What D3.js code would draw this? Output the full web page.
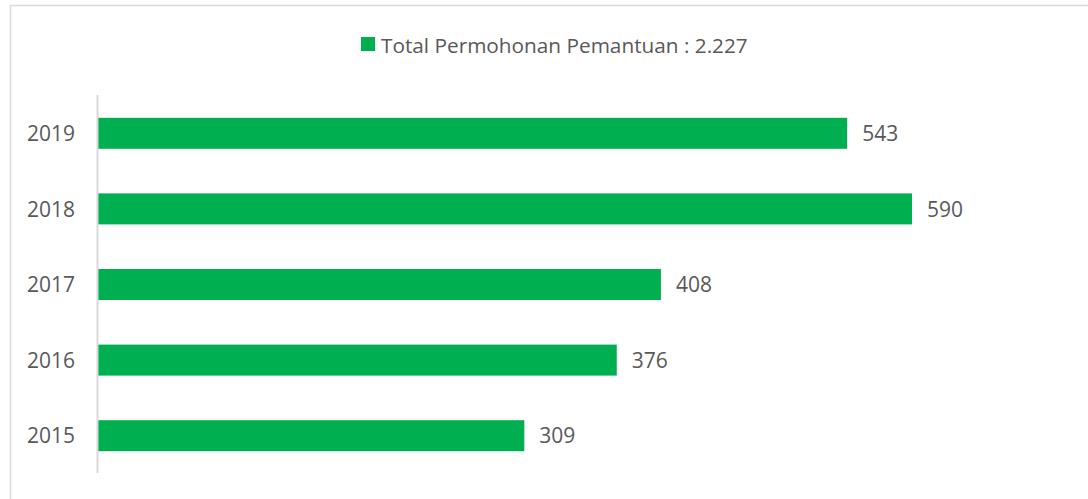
<!DOCTYPE html>
<html>
<head>
<meta charset="utf-8">
<script src="https://cdn.jsdelivr.net/npm/d3@7"></script>
<style>
  html, body { margin: 0; padding: 0; background: #fff; }
  svg { display: block; }
  text { font-family: "Open Sans", "Noto Sans", sans-serif; fill: #595959; }
</style>
</head>
<body>
<svg id="chart" width="1088" height="499"></svg>
<script>
const categories = ["2019", "2018", "2017", "2016", "2015"];
const values = [543, 590, 408, 376, 309];
const seriesName = "Total Permohonan Pemantuan : 2.227";

const svg = d3.select("#chart");
const W = 1088, H = 499;

// outer chart border (extends past the right/bottom of the frame)
svg.append("rect")
  .attr("x", 10.5).attr("y", 5.5)
  .attr("width", W + 20).attr("height", H + 20)
  .attr("fill", "none").attr("stroke", "#d9d9d9").attr("stroke-width", 1.5);

const x = d3.scaleLinear().domain([0, 590]).range([98, 912]);
const y = d3.scaleBand().domain(categories).range([95.5, 473.5])
  .paddingInner(0.59).paddingOuter(0.295);

// category labels
svg.append("g").selectAll("text").data(categories).join("text")
  .attr("x", 75)
  .attr("y", d => y(d) + y.bandwidth() / 2)
  .attr("dy", "0.37em")
  .attr("text-anchor", "end")
  .attr("font-size", 21)
  .text(d => d);

// bars
svg.append("g").selectAll("rect").data(categories).join("rect")
  .attr("x", x(0))
  .attr("y", d => y(d))
  .attr("width", (d, i) => x(values[i]) - x(0))
  .attr("height", y.bandwidth())
  .attr("fill", "#00B050");

// axis line
svg.append("line")
  .attr("x1", 97.5).attr("x2", 97.5)
  .attr("y1", 95).attr("y2", 473)
  .attr("stroke", "#d9d9d9").attr("stroke-width", 2);

// value labels
svg.append("g").selectAll("text").data(categories).join("text")
  .attr("x", (d, i) => x(values[i]) + 15)
  .attr("y", d => y(d) + y.bandwidth() / 2)
  .attr("dy", "0.37em")
  .attr("font-size", 21)
  .text((d, i) => values[i]);

// legend
const lg = svg.append("g");
lg.append("rect").attr("x", 361).attr("y", 37).attr("width", 14).attr("height", 14)
  .attr("fill", "#00B050");
const lt = lg.append("text").attr("x", 381).attr("y", 52.5)
  .attr("font-size", 20).text(seriesName);
const len = lt.node().getComputedTextLength();
if (len > 0) lt.attr("font-size", 20 * 367 / len);
</script>
</body>
</html>
